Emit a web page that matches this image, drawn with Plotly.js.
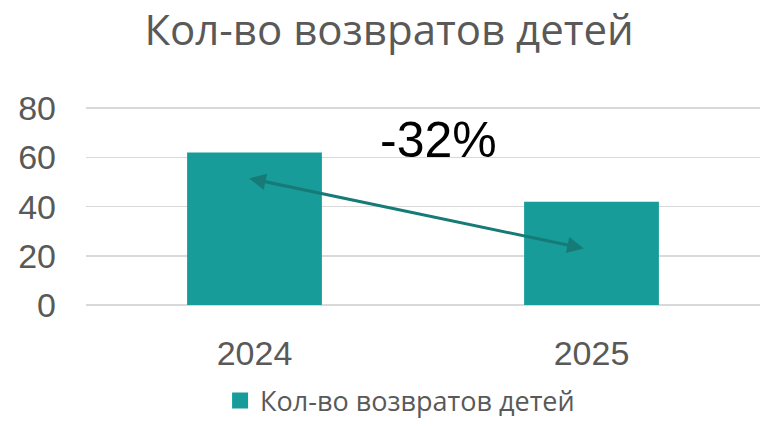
<!DOCTYPE html>
<html>
<head>
<meta charset="utf-8">
<script src="https://cdn.plot.ly/plotly-3.0.1.min.js"></script>
<style>html,body{margin:0;padding:0;background:#fff;}#chart{width:760px;height:426px;}</style>
</head>
<body>
<div id="chart"></div>
<script>
const categories = ["2024", "2025"];
const values = [62, 42];
const seriesName = "Кол-во возвратов детей";
const changeLabel = "-32%";
const arrowStart = [-0.02, 51.6];
const arrowEnd = [0.977, 23];
const yTicks = [0, 20, 40, 60, 80];

const barColor = "#179c9a";
const textGray = "#595959";

const data = [
  {
    type: "bar",
    x: categories,
    y: values,
    width: 0.4,
    marker: {color: barColor},
    showlegend: false,
    hoverinfo: "skip"
  },
  {
    type: "scatter",
    mode: "markers",
    x: [null],
    y: [null],
    name: seriesName,
    marker: {symbol: "square", size: 20, color: barColor},
    showlegend: true
  }
];

const layout = {
  width: 760,
  height: 426,
  margin: {l: 86, r: 0, t: 107, b: 121, autoexpand: false},
  paper_bgcolor: "#fff",
  plot_bgcolor: "#fff",
  title: {
    text: seriesName,
    x: 0.512, xref: "container", xanchor: "center",
    y: 0.928, yref: "container", yanchor: "middle",
    font: {family: "Open Sans", size: 42, color: textGray}
  },
  xaxis: {
    type: "category",
    range: [-0.5, 1.5],
    tickfont: {family: "Liberation Sans", size: 34, color: textGray},
    ticklabelstandoff: 25,
    showgrid: false,
    zeroline: false,
    showline: false,
    ticks: ""
  },
  yaxis: {
    range: [0, 80.5],
    tickvals: yTicks,
    tickfont: {family: "Liberation Sans", size: 34, color: textGray},
    ticklabelstandoff: 29,
    gridcolor: "#d9d9d9",
    gridwidth: 1.5,
    zeroline: true,
    zerolinecolor: "#d9d9d9",
    zerolinewidth: 1.5,
    showline: false,
    ticks: ""
  },
  showlegend: true,
  legend: {
    orientation: "h",
    x: 0.466, xanchor: "center",
    y: -0.608, yanchor: "bottom",
    font: {family: "Open Sans", size: 27, color: textGray},
    itemsizing: "trace"
  },
  annotations: [
    {
      x: arrowEnd[0], y: arrowEnd[1], xref: "x", yref: "y",
      ax: arrowStart[0], ay: arrowStart[1], axref: "x", ayref: "y",
      text: "",
      showarrow: true,
      arrowside: "end+start",
      arrowhead: 2,
      startarrowhead: 2,
      arrowsize: 1.1,
      startarrowsize: 1.1,
      arrowwidth: 3,
      arrowcolor: "#167a77",
      standoff: 0,
      startstandoff: 0
    },
    {
      x: 0.547, y: 67, xref: "x", yref: "y",
      text: changeLabel,
      showarrow: false,
      xanchor: "center", yanchor: "middle",
      font: {family: "Liberation Sans", size: 50, color: "#000"}
    }
  ]
};

Plotly.newPlot("chart", data, layout, {staticPlot: true});
</script>
</body>
</html>
